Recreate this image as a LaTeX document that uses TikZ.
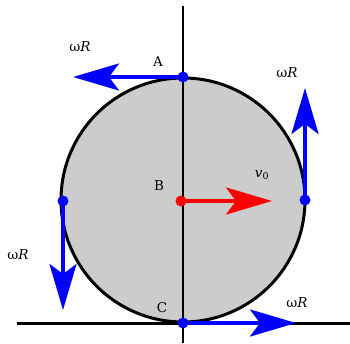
\documentclass[tikz,border=0pt]{standalone}
\usepackage{fontspec}
\setmainfont{DejaVu Serif}
\usetikzlibrary{arrows.meta}
\definecolor{wheel}{HTML}{CCCCCC}
\definecolor{rim}{HTML}{000000}
\definecolor{vel}{HTML}{0000FF}
\definecolor{center}{HTML}{FF0000}

\begin{document}
\begin{tikzpicture}[x=1pt, y=1pt,
    vec/.style={line width=4pt, -{Stealth[length=46pt, width=27pt, inset=10pt]}},
    lbl/.style={font=\fontsize{13.5}{15}\selectfont, inner sep=0pt}]
  \useasboundingbox (0,0) rectangle (350,343);

  % Wheel
  \filldraw[fill=wheel, draw=rim, line width=3pt] (183,143) circle (122);

  % Ground and vertical axis
  \coordinate (g1) at (17,20);
  \coordinate (g2) at (350,20);
  \coordinate (v1) at (183,0);
  \coordinate (v2) at (183,337);
  \draw[line width=3pt] (g1) -- (g2);
  \draw[line width=1.2pt] (v1) -- (v2);

  % Points on the wheel
  \coordinate (A) at (183,266);
  \coordinate (B) at (181,142);
  \coordinate (C) at (183,20);
  \coordinate (L) at (63,142);
  \coordinate (R) at (305,143);

  % Arrow ends
  \coordinate (Aend) at (73,266);
  \coordinate (Bend) at (272,142);
  \coordinate (Cend) at (296,20);
  \coordinate (Lend) at (63,33);
  \coordinate (Rend) at (305,255);

  % Velocities
  \draw[vec, draw=vel, fill=vel] (A) -- (Aend);
  \draw[vec, draw=vel, fill=vel] (R) -- (Rend);
  \draw[vec, draw=vel, fill=vel] (L) -- (Lend);
  \draw[vec, draw=vel, fill=vel] (C) -- (Cend);
  \draw[vec, draw=center, fill=center] (B) -- (Bend);

  % Dots
  \foreach \p in {A, C, L, R} \fill[vel] (\p) circle (5.5);
  \fill[center] (B) circle (5.5);

  % Labels
  \node[lbl] (labA) at (158,281) {A};
  \node[lbl] (labB) at (159,157) {B};
  \node[lbl] (labC) at (162,35) {C};
  \node[lbl] (labv) at (262,168) {\textit{v}\textsubscript{0}};
  \node[lbl] (wA) at (80,296) {ω\textit{R}};
  \node[lbl] (wR) at (287,270) {ω\textit{R}};
  \node[lbl] (wL) at (18,88) {ω\textit{R}};
  \node[lbl] (wC) at (297,40) {ω\textit{R}};
\end{tikzpicture}
\end{document}
